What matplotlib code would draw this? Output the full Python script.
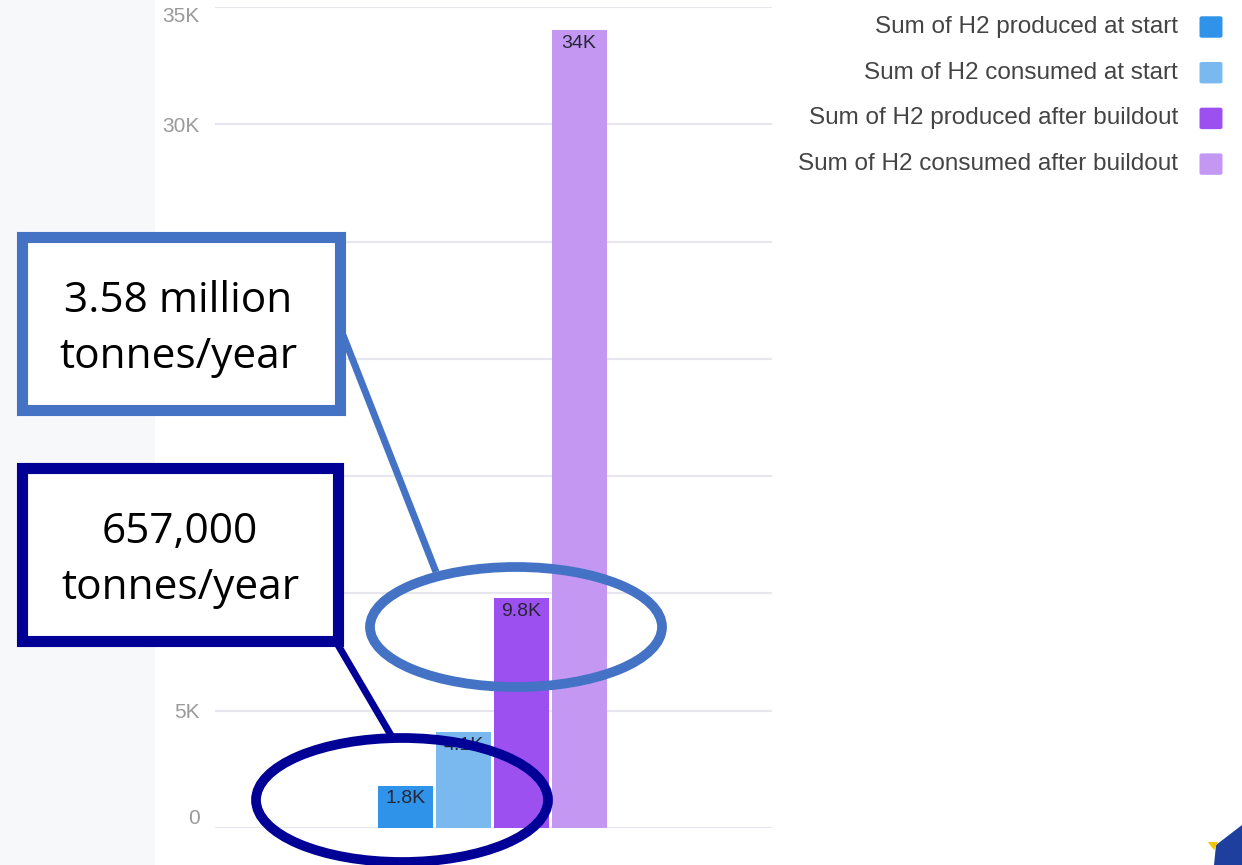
import matplotlib.pyplot as plt
from matplotlib.patches import Rectangle, Ellipse, Polygon, FancyBboxPatch

# data
series = ['Sum of H2 produced at start', 'Sum of H2 consumed at start',
          'Sum of H2 produced after buildout', 'Sum of H2 consumed after buildout']
values = [1800, 4100, 9800, 34000]
value_labels = ['1.8K', '4.1K', '9.8K', '34K']
colors = ['#2f93e9', '#7ab9f0', '#9b50ef', '#c397f2']
yticks = [0, 5000, 10000, 15000, 20000, 25000, 30000, 35000]
ytick_labels = ['0', '5K', '', '', '', '', '30K', '35K']
callouts = ['3.58 million\ntonnes/year', '657,000\ntonnes/year']

W, H = 1242, 865
fig = plt.figure(figsize=(W / 100, H / 100), dpi=100)
fig.patch.set_facecolor('white')

# background layer in pixel coords
bg = fig.add_axes([0, 0, 1, 1], zorder=0)
bg.set_xlim(0, W)
bg.set_ylim(H, 0)
bg.axis('off')
bg.add_patch(Rectangle((0, 0), 155, H, color='#f7f8fa', lw=0))

# chart
ax = fig.add_axes([215 / W, 37 / H, 557 / W, 821 / H], zorder=1)
ax.patch.set_alpha(0)
offsets = [-88, -30, 27.5, 85.5]
bw = 55 / 557
for i in range(len(values)):
    x = offsets[i] / 557
    ax.bar(x, values[i], width=bw, color=colors[i], zorder=2)
    ax.text(x, values[i] - 200, value_labels[i], ha='center', va='top',
            fontsize=14, color='#262636', family='Liberation Sans', zorder=3)
ax.set_xlim(-0.5, 0.5)
ax.set_ylim(0, 35000)
ax.set_yticks(yticks)
ax.set_yticklabels(ytick_labels, fontsize=15, color='#9a9a9a', family='Liberation Sans')
ax.tick_params(axis='y', length=0, pad=11)
tl = ax.get_yticklabels()
tl[0].set_va('bottom')
tl[-1].set_va('top')
ax.set_xticks([])
ax.grid(axis='y', color='#e6e7ee', lw=1.5, zorder=0)
for s in ax.spines.values():
    s.set_visible(False)

# legend on the right
for i, name in enumerate(series):
    yy = (27 + i * 45.7) / H
    fig.text(1178 / W, 1 - yy, name, ha='right', va='center', fontsize=17.5,
             color='#444444', family='Liberation Sans')
    fig.patches.append(FancyBboxPatch((1202 / W, 1 - yy - 9 / H), 18 / W, 18 / H,
                                      boxstyle='round,pad=0.002',
                                      transform=fig.transFigure, color=colors[i],
                                      lw=0, figure=fig))

# callout overlay
ov = fig.add_axes([0, 0, 1, 1], zorder=5)
ov.set_xlim(0, W)
ov.set_ylim(H, 0)
ov.axis('off')
ov.patch.set_alpha(0)

c1, c2 = '#4472c4', '#000096'
ov.plot([343, 436], [335, 572], color=c1, lw=5, solid_capstyle='butt')
ov.plot([338, 392], [645, 737], color=c2, lw=5, solid_capstyle='butt')
ov.add_patch(Rectangle((22, 237), 318, 173, facecolor='white', edgecolor=c1, lw=8))
ov.add_patch(Rectangle((22, 468), 316, 173, facecolor='white', edgecolor=c2, lw=8))
ov.text(178, 329, callouts[0], ha='center', va='center', fontsize=30.5,
        family='Open Sans', color='black', linespacing=1.45)
ov.text(180, 560, callouts[1], ha='center', va='center', fontsize=30.5,
        family='Open Sans', color='black', linespacing=1.45)
ov.add_patch(Ellipse((516, 627), 292, 120, fill=False, edgecolor=c1, lw=7))
ov.add_patch(Ellipse((402, 800), 292, 124, fill=False, edgecolor=c2, lw=7))

# logo corner fragment
ov.add_patch(Polygon([[1216, 845], [1242, 825], [1242, 865], [1214, 865]],
                     closed=True, color='#1f3f9f', lw=0))
ov.add_patch(Polygon([[1208, 842], [1218, 842], [1214, 850]], closed=True,
                     color='#f5c400', lw=0))

fig.savefig('out.png', dpi=100)
